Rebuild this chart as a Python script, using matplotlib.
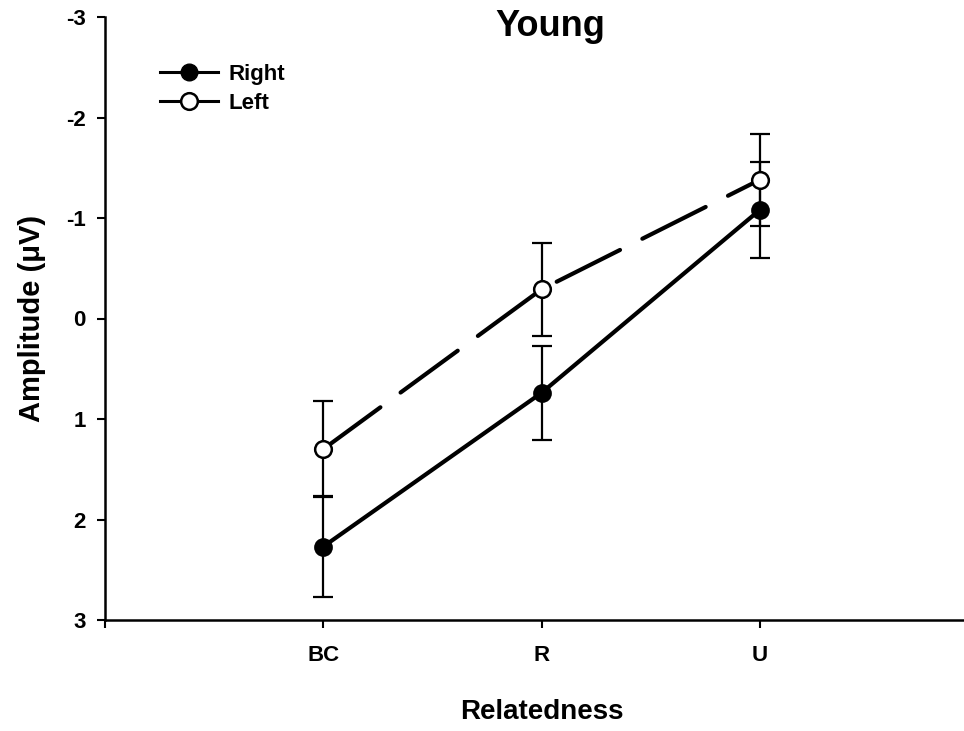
import matplotlib
matplotlib.use("Agg")
import matplotlib.pyplot as plt
from matplotlib.lines import Line2D

categories = ["BC", "R", "U"]
right_vals = [2.27, 0.74, -1.08]
right_err = [0.50, 0.47, 0.48]
left_vals = [1.30, -0.29, -1.38]
left_err = [0.48, 0.46, 0.46]
y_ticks = [-3, -2, -1, 0, 1, 2, 3]

plt.rcParams['font.family'] = ['Liberation Sans', 'DejaVu Sans']

fig = plt.figure(figsize=(9.64, 7.31), dpi=100)
ax = fig.add_axes([105/964, 111/731, (978-105)/964, (620-17)/731])

x = [1, 2, 3]

ax.errorbar(x, right_vals, yerr=right_err, fmt='none', ecolor='black',
            elinewidth=1.6, capsize=7, capthick=1.6, zorder=2)
ax.errorbar(x, left_vals, yerr=left_err, fmt='none', ecolor='black',
            elinewidth=1.6, capsize=7, capthick=1.6, zorder=2)

ax.plot(x, right_vals, color='black', lw=3, solid_capstyle='round', zorder=3)
ax.plot(x, left_vals, color='black', lw=3, linestyle=(0, (17, 6)),
        dash_capstyle='round', zorder=3)
ax.plot(x, right_vals, 'o', color='black', ms=12, mec='black', mew=1.5, zorder=4)
ax.plot(x, left_vals, 'o', color='white', ms=12, mec='black', mew=1.8, zorder=4)

ax.set_xlim(0, 4)
ax.set_ylim(3, -3)
ax.set_yticks(y_ticks)
ax.set_yticklabels([str(v) for v in y_ticks], fontsize=16, fontweight='bold')
ax.set_xticks([0] + x)
ax.set_xticklabels([""] + categories, fontsize=16, fontweight='bold')
ax.tick_params(axis='both', direction='out', length=6, width=1.5, pad=12)
ax.tick_params(axis='y', pad=8)

for s in ['top', 'right']:
    ax.spines[s].set_visible(False)
for s in ['left', 'bottom']:
    ax.spines[s].set_linewidth(1.8)

ax.set_xlabel("Relatedness", fontsize=20, fontweight='bold', labelpad=24)
ax.set_ylabel("Amplitude (\u03bcV)", fontsize=21, fontweight='bold', labelpad=14)
fig.text(550/964, 1 - 26/731, "Young", fontsize=26, fontweight='bold',
         ha='center', va='center')

handles = [
    Line2D([], [], color='black', lw=2.2, marker='o', ms=12, mfc='black', mec='black'),
    Line2D([], [], color='black', lw=2.2, marker='o', ms=12, mfc='white', mec='black', mew=1.8),
]
leg = ax.legend(handles, ["Right", "Left"], loc='upper left',
                bbox_to_anchor=(46/873, 1 - 38/603), frameon=False,
                prop={'size': 16, 'weight': 'bold'}, handlelength=2.6,
                handletextpad=0.5, labelspacing=0.35, borderaxespad=0)

fig.savefig("out.png", dpi=100)
